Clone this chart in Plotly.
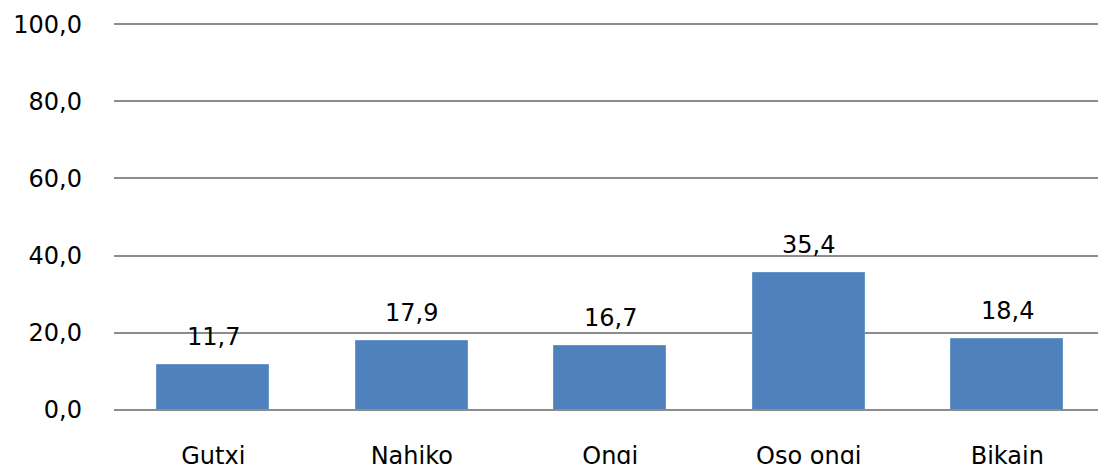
import plotly.graph_objects as go

categories = ["Gutxi", "Nahiko", "Ongi", "Oso ongi", "Bikain"]
values = [11.7, 17.9, 16.7, 35.4, 18.4]
labels = ["11,7", "17,9", "16,7", "35,4", "18,4"]
tick_vals = [0, 20, 40, 60, 80, 100]
tick_text = ["0,0", "20,0", "40,0", "60,0", "80,0", "100,0"]

FONT = "DejaVu Sans"

fig = go.Figure()
fig.add_trace(go.Bar(
    x=list(range(len(categories))), y=values,
    marker=dict(color="#4F81BD", line=dict(color="#6A95C8", width=1)),
    width=0.565,
))
for i, (v, t) in enumerate(zip(values, labels)):
    fig.add_annotation(x=i, y=v, text=t, showarrow=False, yanchor="bottom",
                       yshift=12, font=dict(family=FONT, size=24, color="#000"))

fig.update_layout(
    width=1098, height=464,
    margin=dict(l=114, r=0, t=23, b=54),
    paper_bgcolor="white", plot_bgcolor="white",
    showlegend=False,
    bargap=0,
)
fig.update_xaxes(
    range=[-0.5, 4.457], tickvals=list(range(len(categories))), ticktext=categories,
    tickfont=dict(family=FONT, size=24, color="#000"),
    showgrid=False, zeroline=False, showline=False, automargin=False,
    ticks="outside", ticklen=0, ticklabelstandoff=24,
)
fig.update_yaxes(
    range=[0, 100.3], tickvals=tick_vals, ticktext=tick_text,
    tickfont=dict(family=FONT, size=24, color="#000"),
    showgrid=True, gridcolor="#8C8C8C", gridwidth=2,
    zeroline=True, zerolinecolor="#8C8C8C", zerolinewidth=2,
    showline=False, ticks="", ticklabelstandoff=31, automargin=False,
)
fig.write_html(
    "out.html",
    config={"displayModeBar": False},
    post_script=("document.documentElement.style.overflow='hidden';"
                 "document.body.style.margin='0';document.body.style.overflow='hidden';"),
)
